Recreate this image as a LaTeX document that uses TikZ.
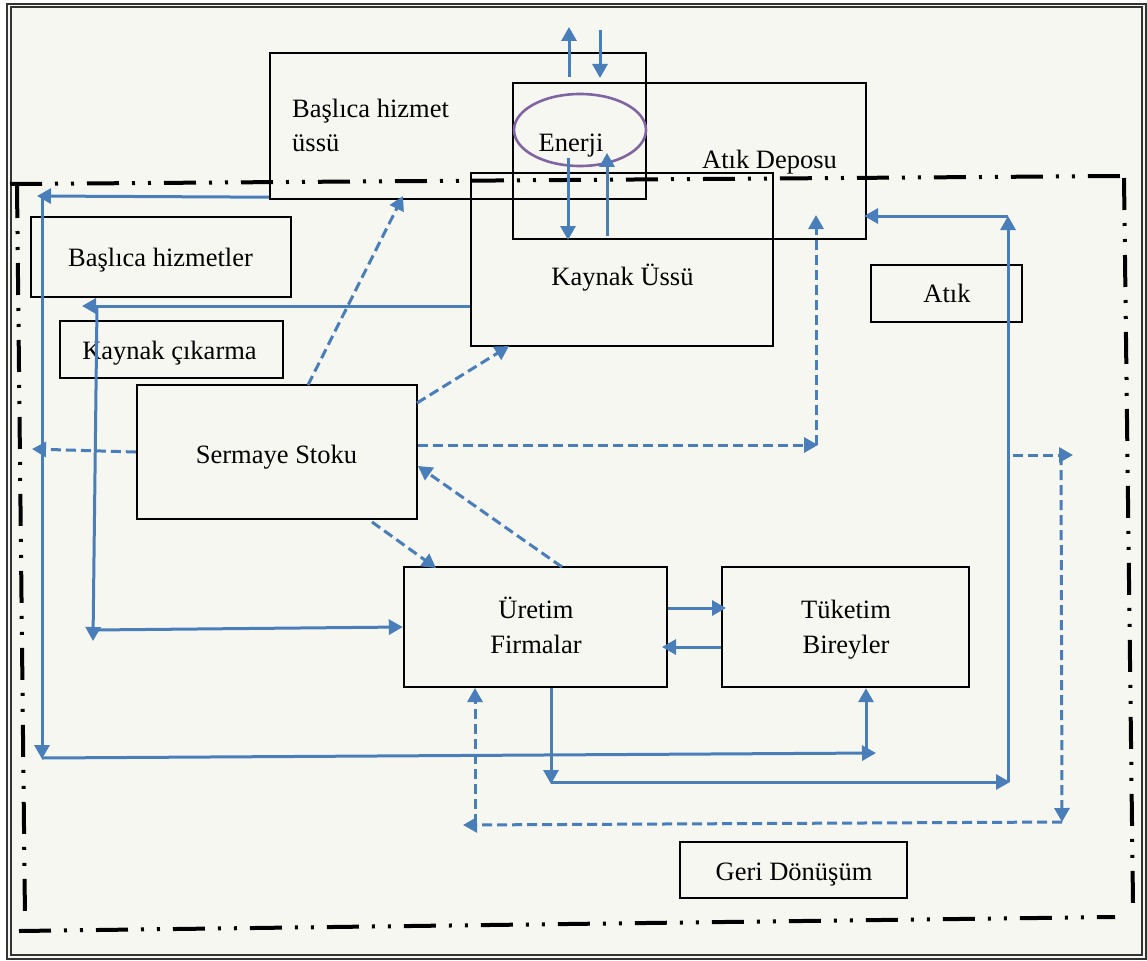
\documentclass[tikz,border=0pt]{standalone}
\usepackage{fontspec}
\setmainfont{Liberation Serif}
\usetikzlibrary{arrows.meta,shapes.geometric,calc}
\definecolor{bg}{RGB}{246,247,240}
\definecolor{flow}{RGB}{74,126,187}
\definecolor{ring}{RGB}{128,100,162}
\begin{document}
\begin{tikzpicture}[x=1pt,y=-1pt,
  box/.style={draw=black, line width=2.4pt, rectangle, inner sep=0pt},
  txt/.style={inner sep=0pt, font=\fontsize{26.5}{34.5}\selectfont, text=black},
  flowline/.style={draw=flow, line width=3pt, -{Triangle[length=14pt,width=15pt]}},
  flowdash/.style={flowline, dash pattern=on 10pt off 5pt},
  border/.style={line width=4pt, draw=black, dash pattern=on 32pt off 13pt on 3pt off 13pt on 3pt off 13pt}]
\useasboundingbox (0,0) rectangle (1147,960);
\fill[white] (0,0) rectangle (1147,960);
\fill[bg] (7,4) rectangle (1146,959);
\draw[line width=1.2pt, black!80] (7,4) rectangle (1146,959);
\draw[line width=1.2pt, black!80] (11,7) rectangle (1142,955);

% dash-dot-dot system boundary
\draw[border] (10,184) -- (1120,176);
\draw[border] (1124,178) -- (1133,904);
\draw[border] (17,186) -- (25,918);
\draw[border] (19,931) -- (1115,917);

% boxes
\node[box, minimum width=376pt, minimum height=146pt] (hub) at (458,126) {};
\node[box, minimum width=353pt, minimum height=156pt] (depo) at (689.5,161) {};
\node[box, minimum width=302pt, minimum height=173pt] (kaynak) at (622,259.5) {};
\node[draw=ring, line width=2.6pt, ellipse, inner sep=0pt, minimum width=132pt, minimum height=72pt] (enerji) at (580,130) {};
\node[box, minimum width=260pt, minimum height=80pt] (hizmetler) at (161,257) {};
\node[box, minimum width=223pt, minimum height=57pt] (cikarma) at (171.5,349.5) {};
\node[box, minimum width=280pt, minimum height=134pt] (sermaye) at (277,452) {};
\node[box, minimum width=263pt, minimum height=120pt] (uretim) at (535.5,627) {};
\node[box, minimum width=247pt, minimum height=120pt] (tuketim) at (845.5,627) {};
\node[box, minimum width=151pt, minimum height=57pt] (atik) at (946.5,293.5) {};
\node[box, minimum width=227pt, minimum height=56pt] (geri) at (793.5,870) {};

% texts (multi-line nodes: base anchor = last line)
\node[txt, anchor=base west, align=left] (thub) at (292,152) {Başlıca hizmet\\üssü};
\node[txt, anchor=base] (tenerji) at (571,152) {Enerji};
\node[txt, anchor=base] (tdepo) at (769.5,168) {Atık Deposu};
\node[txt, anchor=base] (tkaynak) at (622.5,285) {Kaynak Üssü};
\node[txt, anchor=base] (thizmetler) at (160.5,266) {Başlıca hizmetler};
\node[txt, anchor=base] (tcikarma) at (169.5,359) {Kaynak çıkarma};
\node[txt, anchor=base] (tsermaye) at (276.5,463) {Sermaye Stoku};
\node[txt, anchor=base, align=center] (turetim) at (536,653) {Üretim\\Firmalar};
\node[txt, anchor=base, align=center] (ttuketim) at (846,653) {Tüketim\\Bireyler};
\node[txt, anchor=base] (tatik) at (947,302) {Atık};
\node[txt, anchor=base] (tgeri) at (794,880) {Geri Dönüşüm};

% coordinates for free ends
\coordinate (e1s) at (569,77);  \coordinate (e1t) at (569,27);
\coordinate (e2s) at (600,30);  \coordinate (e2t) at (600,78);
\coordinate (e3s) at (568,158); \coordinate (e3t) at (568,240);
\coordinate (e4s) at (607,236); \coordinate (e4t) at (607,153);
\coordinate (h1t) at (37,196);
\coordinate (h2s) at (42,196);  \coordinate (h2t) at (42,759);
\coordinate (h3s) at (42,758);  \coordinate (h3t) at (876,753);
\coordinate (h4s) at (866,754);
\coordinate (k1t) at (82,306);
\coordinate (k2s) at (97,306);  \coordinate (k2t) at (93,641);
\coordinate (k3s) at (93,630);
\coordinate (ut1) at (726,608); \coordinate (ut2) at (662,647);
\coordinate (r1t) at (551,784);
\coordinate (r2s) at (551,782); \coordinate (r2t) at (1010,782);
\coordinate (r3s) at (1008,782); \coordinate (r3t) at (1008,216);
\coordinate (r4t) at (864,216);
\coordinate (d1s) at (308,385); \coordinate (d1t) at (403,196);
\coordinate (d2s) at (417,403); \coordinate (d2t) at (509,346);
\coordinate (d3t) at (818,445);
\coordinate (d4s) at (816,445); \coordinate (d4t) at (816,215);
\coordinate (d5t) at (32,449);
\coordinate (d6s) at (372,522); \coordinate (d6t) at (436,568);
\coordinate (d7s) at (562,567); \coordinate (d7t) at (418,466);
\coordinate (d8s) at (475,824); \coordinate (d8t) at (475,688);
\coordinate (d9s) at (1062,822); \coordinate (d9t) at (463,825);
\coordinate (d10s) at (1061,455); \coordinate (d10t) at (1062,822);
\coordinate (d11s) at (1013,455); \coordinate (d11t) at (1073,455);

% solid flows
\draw[flowline] (e1s) -- (e1t);
\draw[flowline] (e2s) -- (e2t);
\draw[flowline] (e3s) -- (e3t);
\draw[flowline] (e4s) -- (e4t);
\draw[flowline] ([yshift=3pt]hub.south west) -- (h1t);
\draw[flowline] (h2s) -- (h2t);
\draw[flowline] (h3s) -- (h3t);
\draw[flowline] (h4s) -- (tuketim.south -| h4s);
\draw[flowline] (kaynak.west |- k1t) -- (k1t);
\draw[flowline] (k2s) -- (k2t);
\draw[flowline] (k3s) -- (uretim.west);
\draw[flowline] (uretim.east |- ut1) -- (ut1);
\draw[flowline] (tuketim.west |- ut2) -- (ut2);
\draw[flowline] (uretim.south -| r1t) -- (r1t);
\draw[flowline] (r2s) -- (r2t);
\draw[flowline] (r3s) -- (r3t);
\draw[flowline] (r3t) -- (r4t);

% dashed flows
\draw[flowdash] (d1s) -- (d1t);
\draw[flowdash] (d2s) -- (d2t);
\draw[flowdash] (sermaye.east |- d3t) -- (d3t);
\draw[flowdash] (d4s) -- (d4t);
\draw[flowdash] (sermaye.west) -- (d5t);
\draw[flowdash] (d6s) -- (d6t);
\draw[flowdash] (d7s) -- (d7t);
\draw[flowdash] (d8s) -- (d8t);
\draw[flowdash] (d9s) -- (d9t);
\draw[flowdash] (d10s) -- (d10t);
\draw[flowdash] (d11s) -- (d11t);
\end{tikzpicture}
\end{document}
